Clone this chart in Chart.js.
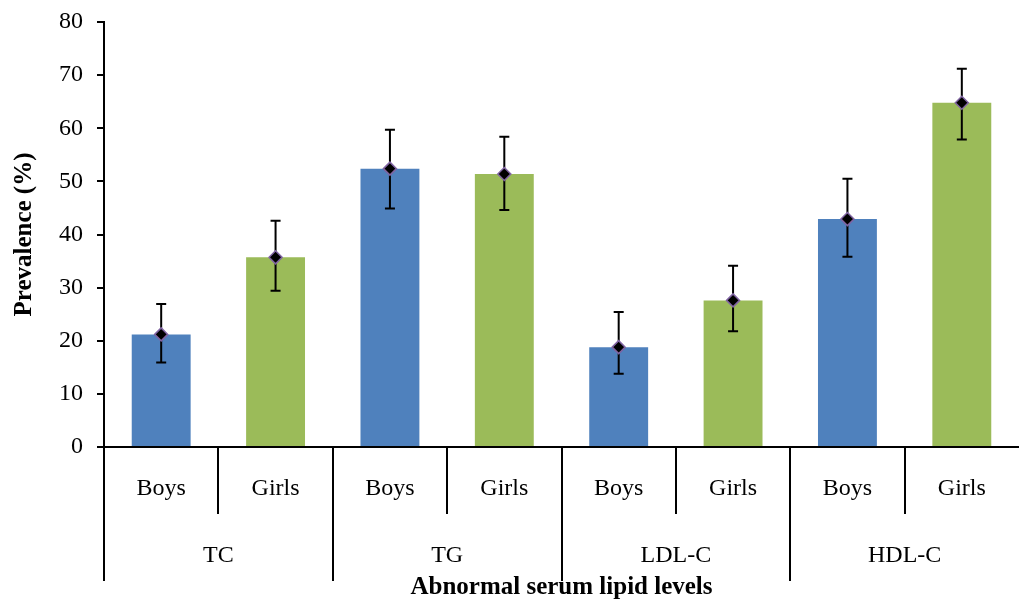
<!DOCTYPE html>
<html>
<head>
<meta charset="utf-8">
<script src="https://cdn.jsdelivr.net/npm/chart.js@4/dist/chart.umd.min.js"></script>
<style>
  html, body { margin: 0; padding: 0; background: #fff; overflow: hidden; }
  canvas { display: block; }
</style>
</head>
<body>
<canvas id="lipid-chart" width="1019" height="600"></canvas>
<script>
// categories
const sexLabels = ['Boys', 'Girls', 'Boys', 'Girls', 'Boys', 'Girls', 'Boys', 'Girls']
const lipidGroups = ['TC', 'TG', 'LDL-C', 'HDL-C']
// prevalence (%) and 95% CI
const prevalence = [21.2, 35.7, 52.4, 51.4, 18.8, 27.6, 42.9, 64.8]
const ciLower = [15.9, 29.4, 44.9, 44.6, 13.8, 21.8, 35.8, 57.9]
const ciUpper = [26.9, 42.6, 59.7, 58.4, 25.4, 34.1, 50.5, 71.2]
const yTicks = [0, 10, 20, 30, 40, 50, 60, 70, 80]

const blue = '#4F81BD'
const green = '#9BBB59'
const font = "'Liberation Serif', 'Times New Roman', serif"

// error bars drawn right after the bars, under the diamonds
const errorBars = {
    id: 'errorBars',
    afterDatasetDraw(chart, args) {
        if (args.index !== 0) return
        const ctx = chart.ctx
        const y = chart.scales.y
        const bars = chart.getDatasetMeta(0).data
        ctx.save()
        ctx.strokeStyle = '#000'
        ctx.lineWidth = 2
        bars.forEach(function(bar, i) {
            const top = y.getPixelForValue(ciUpper[i])
            const bot = y.getPixelForValue(ciLower[i])
            ctx.beginPath()
            ctx.moveTo(bar.x, top)
            ctx.lineTo(bar.x, bot)
            ctx.moveTo(bar.x - 5, top)
            ctx.lineTo(bar.x + 5, top)
            ctx.moveTo(bar.x - 5, bot)
            ctx.lineTo(bar.x + 5, bot)
            ctx.stroke()
        })
        ctx.restore()
    }
}

const noSidePad = (scale) => { scale.paddingLeft = 0; scale.paddingRight = 0 }
// the last offset grid line (right edge) gets the scale context, hide it
const sepColor = (c) => c.type === 'tick' ? '#000' : 'rgba(0,0,0,0)'

const ctx = document.getElementById('lipid-chart').getContext('2d')

const chart = new Chart(ctx, {
    type: 'bar',
    data: {
        labels: sexLabels,
        datasets: [{
            label: 'Prevalence',
            data: prevalence,
            backgroundColor: sexLabels.map(s => s === 'Boys' ? blue : green),
            categoryPercentage: 1,
            barPercentage: 0.515,
            order: 2
        }, {
            type: 'line',
            label: 'Mean',
            data: prevalence,
            showLine: false,
            pointStyle: 'rectRot',
            pointRadius: 6.5,
            pointBackgroundColor: '#000',
            pointBorderColor: '#8064A2',
            pointBorderWidth: 1.5,
            order: 1
        }]
    },
    options: {
        responsive: false,
        animation: false,
        layout: { autoPadding: false, padding: { top: 22, left: 0, right: 0, bottom: 0 } },
        plugins: {
            legend: { display: false },
            tooltip: { enabled: false }
        },
        scales: {
            y: {
                min: 0,
                max: 80,
                afterBuildTicks: (scale) => { scale.ticks = yTicks.map(v => ({ value: v })) },
                afterFit: (scale) => { scale.width = 104; scale.paddingTop = 0; scale.paddingBottom = 0 },
                border: { color: '#000', width: 2 },
                grid: { drawOnChartArea: false, drawTicks: true, tickLength: 7, color: '#000', lineWidth: 2 },
                ticks: { color: '#000', padding: 14, font: { family: font, size: 24 } },
                title: {
                    display: true,
                    text: 'Prevalence (%)',
                    color: '#000',
                    padding: { top: 10, bottom: 0 },
                    font: { family: font, size: 25, weight: 'bold' }
                }
            },
            x: {
                position: 'bottom',
                afterFit: (scale) => { scale.height = 56; noSidePad(scale) },
                border: { color: '#000', width: 2 },
                grid: { offset: true, drawOnChartArea: false, drawTicks: true, tickLength: 67, color: sepColor, lineWidth: 2 },
                ticks: { color: '#000', padding: -40, font: { family: font, size: 24 } }
            },
            x2: {
                type: 'category',
                position: 'bottom',
                labels: lipidGroups,
                afterFit: (scale) => { scale.height = 97; noSidePad(scale) },
                border: { display: false },
                grid: { offset: true, drawOnChartArea: false, drawTicks: true, tickLength: 78, color: sepColor, lineWidth: 2 },
                ticks: { color: '#000', padding: -40, font: { family: font, size: 24 } },
                title: {
                    display: true,
                    text: 'Abnormal serum lipid levels',
                    color: '#000',
                    padding: { top: 0, bottom: -3 },
                    font: { family: font, size: 25, weight: 'bold' }
                }
            }
        }
    },
    plugins: [errorBars]
})
</script>
</body>
</html>
